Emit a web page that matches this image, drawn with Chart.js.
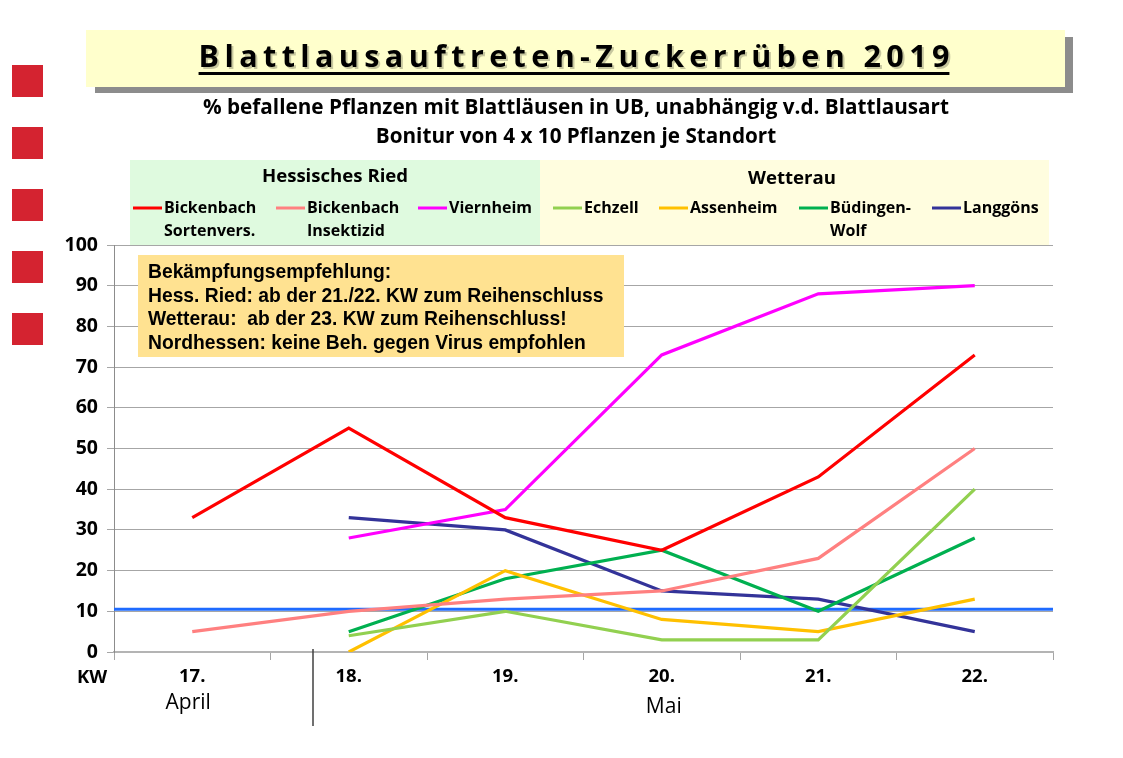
<!DOCTYPE html>
<html>
<head>
<meta charset="utf-8">
<script src="https://cdn.jsdelivr.net/npm/chart.js@4"></script>
<style>
  body { margin: 0; background: #fff; }
  #wrap { width: 1123px; height: 758px; }
</style>
</head>
<body>
<div id="wrap"><canvas id="mycanvas" width="1123" height="758"></canvas></div>
<script>
// KW labels and values (% befallene Pflanzen)
var weeks = ['17.', '18.', '19.', '20.', '21.', '22.'];
var bickenbachSorten = [33, 55, 33, 25, 43, 73];
var bickenbachInsekt = [5, 10, 13, 15, 23, 50];
var viernheim = [null, 28, 35, 73, 88, 90];
var echzell = [null, 4, 10, 3, 3, 40];
var assenheim = [null, 0, 20, 8, 5, 13];
var buedingen = [null, 5, 18, 25, 10, 28];
var langgoens = [null, 33, 30, 15, 13, 5];
var threshold = 10.5; // blue line

var seriesNames = [['Bickenbach', 'Sortenvers.'], ['Bickenbach', 'Insektizid'], ['Viernheim'],
                   ['Echzell'], ['Assenheim'], ['Büdingen-', 'Wolf'], ['Langgöns']];
var seriesColors = ['#FF0000', '#FF8080', '#FF00FF', '#92D050', '#FFC000', '#00B050', '#333399'];
var allSeries = [bickenbachSorten, bickenbachInsekt, viernheim, echzell, assenheim, buedingen, langgoens];

var title = 'Blattlausauftreten-Zuckerrüben 2019';
var subtitle = ['% befallene Pflanzen mit Blattläusen in UB, unabhängig v.d. Blattlausart',
                'Bonitur von 4 x 10 Pflanzen je Standort'];
var note = ['Bekämpfungsempfehlung:',
            'Hess. Ried: ab der 21./22. KW zum Reihenschluss',
            'Wetterau:  ab der 23. KW zum Reihenschluss!',
            'Nordhessen: keine Beh. gegen Virus empfohlen'];

var FONT = '"Open Sans", Lato, sans-serif';

function spacedText(ctx, str, cx, y, spacing) {
  // draw text with letter spacing, centered on cx
  var w = 0, i;
  for (i = 0; i < str.length; i++) w += ctx.measureText(str[i]).width + (i < str.length - 1 ? spacing : 0);
  var x = cx - w / 2;
  ctx.textAlign = 'left';
  for (i = 0; i < str.length; i++) {
    ctx.fillText(str[i], x, y);
    x += ctx.measureText(str[i]).width + spacing;
  }
  return { left: cx - w / 2, right: cx + w / 2 };
}

var decorations = {
  id: 'decorations',
  beforeDraw: function(chart) {
    var ctx = chart.ctx;
    ctx.save();
    // red squares on the left
    ctx.fillStyle = '#D42330';
    [65, 127, 189, 251, 313].forEach(function(y) { ctx.fillRect(12, y, 31, 32); });

    // title box with shadow
    ctx.fillStyle = '#8C8C8C';
    ctx.fillRect(95, 37, 978, 56);
    ctx.fillStyle = '#FFFFCC';
    ctx.fillRect(86, 30, 979, 57);

    ctx.font = 'bold 30.5px ' + FONT;
    ctx.textBaseline = 'alphabetic';
    ctx.fillStyle = 'rgba(0,0,0,0.22)';
    spacedText(ctx, title, 576, 69, 5.4);
    ctx.fillStyle = '#000';
    var ext = spacedText(ctx, title, 574, 67, 5.4);
    ctx.fillRect(ext.left, 72, ext.right - ext.left, 3);

    ctx.textBaseline = 'middle';
    ctx.textAlign = 'center';
    ctx.font = 'bold 20.7px ' + FONT;
    ctx.fillText(subtitle[0], 576, 108);
    ctx.fillText(subtitle[1], 576, 137);

    // legend group boxes
    ctx.fillStyle = '#DFFADF';
    ctx.fillRect(130, 160, 410, 85);
    ctx.fillStyle = '#FFFDDF';
    ctx.fillRect(540, 160, 509, 85);

    ctx.fillStyle = '#000';
    ctx.font = 'bold 18.6px ' + FONT;
    ctx.fillText('Hessisches Ried', 335, 177);
    ctx.fillText('Wetterau', 792, 179);

    var lineX = [133, 276, 418, 553, 659, 799, 932];
    ctx.font = 'bold 16px ' + FONT;
    ctx.textAlign = 'left';
    seriesNames.forEach(function(name, i) {
      ctx.strokeStyle = seriesColors[i];
      ctx.lineWidth = 3;
      ctx.beginPath();
      ctx.moveTo(lineX[i], 208);
      ctx.lineTo(lineX[i] + 29, 208);
      ctx.stroke();
      ctx.fillStyle = '#000';
      name.forEach(function(part, j) { ctx.fillText(part, lineX[i] + 31, 208 + j * 23); });
    });
    ctx.restore();
  },
  beforeDatasetsDraw: function(chart) {
    var ctx = chart.ctx, area = chart.chartArea;
    var y = chart.scales.y.getPixelForValue(threshold);
    ctx.save();
    ctx.strokeStyle = '#1F6BFF';
    ctx.lineWidth = 3;
    ctx.beginPath();
    ctx.moveTo(area.left, y);
    ctx.lineTo(area.right, y);
    ctx.stroke();
    ctx.restore();
  },
  afterDraw: function(chart) {
    var ctx = chart.ctx;
    var xs = chart.scales.x;
    ctx.save();
    // recommendation box
    ctx.fillStyle = '#FFE291';
    ctx.fillRect(138, 255, 486, 102);
    ctx.fillStyle = '#000';
    ctx.font = 'bold 19.3px "Liberation Sans", Arial, sans-serif';
    ctx.textBaseline = 'middle';
    ctx.textAlign = 'left';
    note.forEach(function(line, i) { ctx.fillText(line, 148, 273 + i * 23.5); });

    // KW label, months, separator
    ctx.font = 'bold 18.5px ' + FONT;
    ctx.textAlign = 'center';
    ctx.fillText('KW', 92, 678);
    ctx.font = '21px ' + FONT;
    ctx.fillText('April', xs.getPixelForValue(0) - 4, 703);
    ctx.fillText('Mai', xs.getPixelForValue(3) + 2, 707);
    ctx.strokeStyle = '#404040';
    ctx.lineWidth = 1.5;
    ctx.beginPath();
    ctx.moveTo(313, 649);
    ctx.lineTo(313, 726);
    ctx.stroke();
    ctx.restore();
  }
};

var ctx = document.getElementById('mycanvas');
new Chart(ctx, {
  type: 'line',
  data: {
    labels: weeks,
    datasets: allSeries.map(function(vals, i) {
      return {
        label: seriesNames[i].join(' '),
        data: vals,
        borderColor: seriesColors[i],
        backgroundColor: seriesColors[i],
        borderWidth: 3.2,
        pointRadius: 0,
        tension: 0,
        fill: false
      };
    })
  },
  plugins: [decorations],
  options: {
    responsive: false,
    animation: false,
    layout: { padding: { top: 245, right: 70, left: 0, bottom: 0 } },
    plugins: {
      legend: { display: false },
      title: { display: false },
      tooltip: { enabled: false }
    },
    scales: {
      x: {
        offset: true,
        afterFit: function(scale) { scale.height = 106; },
        grid: { offset: true, drawOnChartArea: false, color: '#A6A6A6', tickLength: 8 },
        border: { color: '#B4B4B4', width: 2 },
        ticks: { color: '#000', padding: 6, font: { family: FONT, size: 18.5, weight: 'bold' } }
      },
      y: {
        min: 0,
        max: 100,
        afterFit: function(scale) { scale.width = 114; },
        ticks: { stepSize: 10, color: '#000', padding: 9, font: { family: FONT, size: 19.5, weight: 'bold' } },
        grid: { color: '#A6A6A6', tickLength: 7 },
        border: { color: '#8C8C8C', width: 1 }
      }
    }
  }
});
</script>
</body>
</html>
